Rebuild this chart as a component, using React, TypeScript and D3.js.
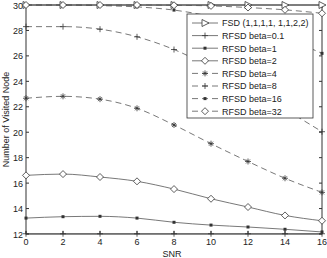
import React from "react";
import * as d3 from "d3";

const snr = [0, 2, 4, 6, 8, 10, 12, 14, 16];
const xTicks = [0, 2, 4, 6, 8, 10, 12, 14, 16];
const yTicks = [12, 14, 16, 18, 20, 22, 24, 26, 28, 30];

const fsd = [30, 30, 30, 30, 30, 30, 30, 30, 30];
const beta01 = [12.02, 12.02, 12.02, 12.02, 12.02, 12.02, 12.02, 12.02, 12.02];
const beta1 = [13.25, 13.36, 13.39, 13.25, 12.92, 12.7, 12.55, 12.37, 12.16];
const beta2 = [16.61, 16.71, 16.48, 16.14, 15.53, 14.77, 14.12, 13.46, 13.04];
const beta4 = [22.67, 22.82, 22.6, 21.88, 20.57, 19.1, 17.7, 16.38, 15.27];
const beta8 = [28.3, 28.3, 28.1, 27.5, 26.5, 25.1, 23.5, 21.8, 20.04];
const beta16 = [30, 30, 29.95, 29.85, 29.6, 29.1, 28.4, 27.4, 26.2];
const beta32 = [30, 30, 30, 30, 29.98, 29.93, 29.8, 29.62, 29.35];

const labels = [
  "FSD (1,1,1,1, 1,1,2,2)",
  "RFSD beta=0.1",
  "RFSD beta=1",
  "RFSD beta=2",
  "RFSD beta=4",
  "RFSD beta=8",
  "RFSD beta=16",
  "RFSD beta=32",
];
const seriesValues = [fsd, beta01, beta1, beta2, beta4, beta8, beta16, beta32];
const markers = ["tri", "plus", "dot", "diamond", "star", "plus", "dot", "diamond"];
const dashed = [false, false, false, false, true, true, true, true];

const W = 327;
const H = 258;
const L = 26, R = 322, T = 5, B = 234;
const lineColor = "#555";
const markColor = "#333";

function Marker({ type, x, y }: { type: string; x: number; y: number }) {
  const c = markColor;
  switch (type) {
    case "tri":
      return <path d={`M${x - 3},${y - 3.5} L${x + 4},${y} L${x - 3},${y + 3.5} Z`} fill="white" stroke={c} strokeWidth={0.8} />;
    case "plus":
      return <path d={`M${x - 3},${y} H${x + 3} M${x},${y - 3} V${y + 3}`} stroke={c} strokeWidth={0.8} />;
    case "dot":
      return <rect x={x - 1.5} y={y - 1.5} width={3} height={3} fill={c} />;
    case "diamond":
      return <path d={`M${x},${y - 3.5} L${x + 3.5},${y} L${x},${y + 3.5} L${x - 3.5},${y} Z`} fill="white" stroke={c} strokeWidth={0.8} />;
    case "star":
      return (
        <path
          d={`M${x - 3},${y} H${x + 3} M${x},${y - 3} V${y + 3} M${x - 2},${y - 2} L${x + 2},${y + 2} M${x - 2},${y + 2} L${x + 2},${y - 2}`}
          stroke={c}
          strokeWidth={0.8}
        />
      );
    default:
      return null;
  }
}

export default function App() {
  const x = d3.scaleLinear().domain([0, 16]).range([L, R]);
  const y = d3.scaleLinear().domain([12, 30]).range([B, T]);
  const line = d3
    .line<number>()
    .x((_, i) => x(snr[i]))
    .y((d) => y(d))
    .curve(d3.curveMonotoneX);

  const font = "'Liberation Sans', Arial, sans-serif";
  const legX = 187, legY = 14, legW = 126, legH = 104;
  const rowY = (i: number) => 23 + i * 12.6;

  return (
    <svg width={W} height={H} style={{ position: "absolute", left: 0, top: 0, background: "white" }}>
      <rect x={0} y={0} width={W} height={H} fill="white" />
      {/* box */}
      <rect x={L} y={T} width={R - L} height={B - T} fill="none" stroke="#333" strokeWidth={1} />
      {/* ticks */}
      {xTicks.map((t) => (
        <g key={"xt" + t}>
          <line x1={x(t)} x2={x(t)} y1={B} y2={B - 3} stroke="#333" />
          <line x1={x(t)} x2={x(t)} y1={T} y2={T + 3} stroke="#333" />
          <text x={x(t)} y={B + 11} fontSize={9} fontFamily={font} textAnchor="middle" fill="#222">
            {t}
          </text>
        </g>
      ))}
      {yTicks.map((t) => (
        <g key={"yt" + t}>
          <line x1={L} x2={L + 3} y1={y(t)} y2={y(t)} stroke="#333" />
          <line x1={R} x2={R - 3} y1={y(t)} y2={y(t)} stroke="#333" />
          <text x={L - 3} y={y(t) + 3.5} fontSize={9} fontFamily={font} textAnchor="end" fill="#222">
            {t}
          </text>
        </g>
      ))}
      <text x={172} y={257} fontSize={9} fontFamily={font} textAnchor="middle" fill="#222">
        SNR
      </text>
      <text
        transform={`translate(9, ${(T + B) / 2}) rotate(-90)`}
        fontSize={9}
        fontFamily={font}
        textAnchor="middle"
        fill="#222"
      >
        Number of Visited Node
      </text>
      {/* series */}
      {seriesValues.map((vals, si) => (
        <g key={"s" + si}>
          <path
            d={line(vals) || ""}
            fill="none"
            stroke={lineColor}
            strokeWidth={0.8}
            strokeDasharray={dashed[si] ? "6,4" : undefined}
          />
          {vals.map((v, i) => (
            <Marker key={i} type={markers[si]} x={x(snr[i])} y={y(v)} />
          ))}
        </g>
      ))}
      {/* legend */}
      <rect x={legX} y={legY} width={legW} height={legH} fill="white" stroke="#333" strokeWidth={0.8} />
      {labels.map((lab, i) => (
        <g key={"l" + i}>
          <line
            x1={legX + 5}
            x2={legX + 31}
            y1={rowY(i)}
            y2={rowY(i)}
            stroke={lineColor}
            strokeWidth={0.8}
            strokeDasharray={dashed[i] ? "6,4" : undefined}
          />
          <Marker type={markers[i]} x={legX + 18} y={rowY(i)} />
          <text x={legX + 35} y={rowY(i) + 3.3} fontSize={9} fontFamily={font} fill="#222">
            {lab}
          </text>
        </g>
      ))}
    </svg>
  );
}
